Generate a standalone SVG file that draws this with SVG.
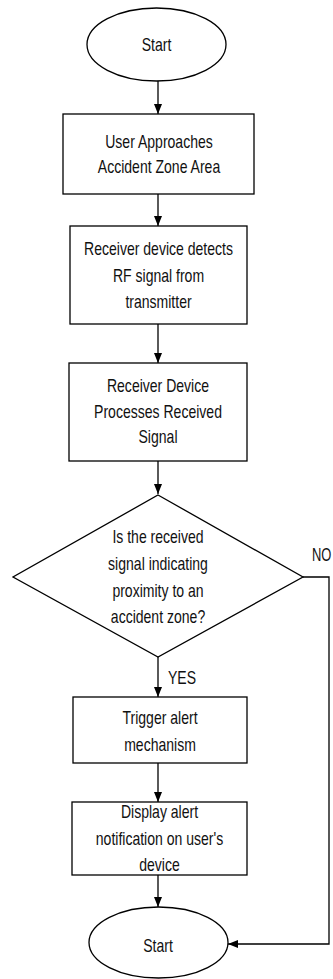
<svg xmlns="http://www.w3.org/2000/svg" width="333" height="979" viewBox="0 0 333 979">
<style>
.shape{fill:#fff;stroke:#000;stroke-width:1.3}
.conn{fill:none;stroke:#000;stroke-width:1.3;marker-end:url(#ah)}
text{font-family:"Liberation Sans",Arial,sans-serif;font-size:18px;fill:#111;text-anchor:middle}
.lbl{text-anchor:start}
</style>
<defs>
<marker id="ah" viewBox="0 0 10 8" markerWidth="10" markerHeight="8" refX="10" refY="4" orient="auto" markerUnits="userSpaceOnUse">
<path d="M0,0 L10,4 L0,8 Z" fill="#000"/>
</marker>
</defs>
<rect width="333" height="979" fill="#fff"/>
<g id="connectors">
<line class="conn" x1="158" y1="81" x2="158" y2="114"/>
<line class="conn" x1="158" y1="194" x2="158" y2="226"/>
<line class="conn" x1="158" y1="324" x2="158" y2="363"/>
<line class="conn" x1="158" y1="461" x2="158" y2="494"/>
<line class="conn" x1="158" y1="657" x2="158" y2="697"/>
<line class="conn" x1="158" y1="763" x2="158" y2="802"/>
<line class="conn" x1="158" y1="875" x2="158" y2="907"/>
<polyline class="conn" points="303,577 329,577 329,944 228,944"/>
<text class="lbl" transform="translate(168,684) scale(0.78,1)">YES</text>
<text class="lbl" transform="translate(312,561) scale(0.72,1)">NO</text>
</g>
<g id="start">
<ellipse class="shape" cx="156.5" cy="44.5" rx="69.5" ry="36.5"/>
<text transform="translate(156.5,51) scale(0.78,1)">Start</text>
</g>
<g id="approach">
<rect class="shape" x="63" y="114" width="191" height="80"/>
<text transform="translate(159,148) scale(0.78,1)">User Approaches</text>
<text transform="translate(159,173) scale(0.78,1)">Accident Zone Area</text>
</g>
<g id="detect">
<rect class="shape" x="70" y="226" width="177" height="98"/>
<text transform="translate(158.5,255) scale(0.78,1)">Receiver device detects</text>
<text transform="translate(158.5,282) scale(0.78,1)">RF signal from</text>
<text transform="translate(158.5,308) scale(0.78,1)">transmitter</text>
</g>
<g id="process">
<rect class="shape" x="69" y="363" width="178" height="98"/>
<text transform="translate(158,392) scale(0.78,1)">Receiver Device</text>
<text transform="translate(158,418) scale(0.78,1)">Processes Received</text>
<text transform="translate(158,443) scale(0.78,1)">Signal</text>
</g>
<g id="decision">
<polygon class="shape" points="158,495 303,577 158,657 13,577"/>
<text transform="translate(158,543) scale(0.78,1)">Is the received</text>
<text transform="translate(158,570) scale(0.78,1)">signal indicating</text>
<text transform="translate(158,597) scale(0.78,1)">proximity to an</text>
<text transform="translate(158,623) scale(0.78,1)">accident zone?</text>
</g>
<g id="trigger">
<rect class="shape" x="73" y="697" width="174" height="66"/>
<text transform="translate(160,724) scale(0.78,1)">Trigger alert</text>
<text transform="translate(160,751) scale(0.78,1)">mechanism</text>
</g>
<g id="display">
<rect class="shape" x="72" y="802" width="175" height="73"/>
<text transform="translate(159.5,818) scale(0.78,1)">Display alert</text>
<text transform="translate(159.5,845) scale(0.78,1)">notification on user's</text>
<text transform="translate(159.5,871) scale(0.78,1)">device</text>
</g>
<g id="end">
<ellipse class="shape" cx="158.5" cy="942.5" rx="69.5" ry="35.5"/>
<text transform="translate(158,952) scale(0.78,1)">Start</text>
</g>
</svg>
